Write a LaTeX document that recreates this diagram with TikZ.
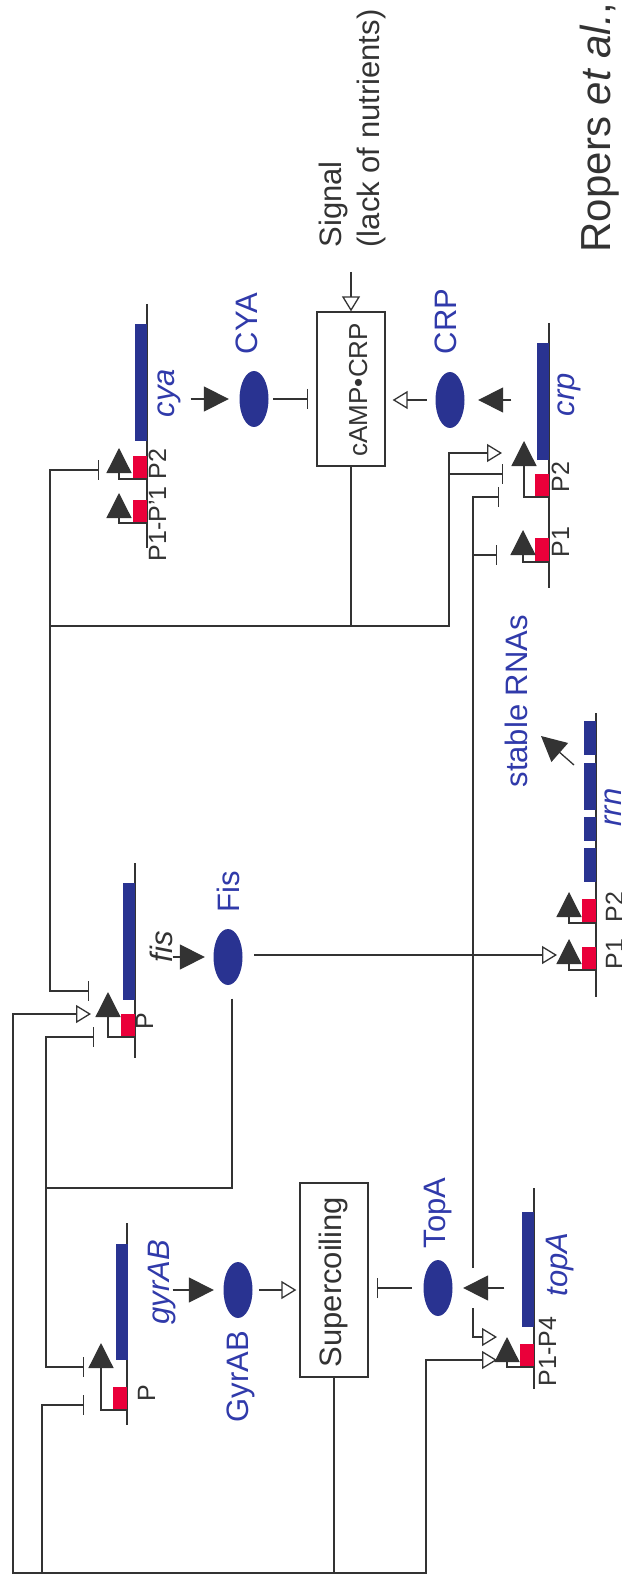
\documentclass[tikz,border=0pt]{standalone}
\usepackage{fontspec}
\setmainfont{Liberation Sans}
\usetikzlibrary{arrows.meta,shapes.geometric}
\definecolor{genebl}{RGB}{41,51,145}
\definecolor{txtbl}{RGB}{48,58,170}
\definecolor{promred}{RGB}{234,0,58}
\definecolor{ink}{RGB}{51,51,51}

\begin{document}
\begin{tikzpicture}[
    x=0.5pt, y=-0.5pt,
    line width=0.65pt, color=ink,
    prot/.style={ellipse,fill=genebl,inner sep=0pt,minimum width=14.5pt,minimum height=28pt},
    genebar/.style={rectangle,fill=genebl,inner sep=0pt,minimum width=6pt},
    sbox/.style={rectangle,draw=ink,inner sep=0pt,minimum width=34pt},
    lbl/.style={rotate=90,inner sep=0pt,anchor=base west,font=\fontsize{15.5}{18}\selectfont},
    bl/.style={lbl,text=txtbl},
    plbl/.style={lbl,font=\fontsize{12.5}{15}\selectfont},
    prod/.style={-{Triangle[length=12.5pt,width=12.5pt]}},
    act/.style={-{Triangle[open,length=7.5pt,width=9pt]}},
    repr/.style={-{Bar[width=10pt]}},
  ]
  \useasboundingbox (0,0) rectangle (621,1588);

  % --- genes: DNA strands, coding regions, promoters ---
  \foreach \gx/\ya/\yb in {147/304/548, 549/323/588, 135/863/1058,
                           596/713/997, 127/1223/1425, 534/1188/1389}
    \draw (\gx,\ya) -- (\gx,\yb);

  \node[genebar,minimum height=58.5pt] (cyag) at (141,382.5) {};
  \node[genebar,minimum height=58.5pt] (crpg) at (543,401.5) {};
  \node[genebar,minimum height=58.5pt] (fisg) at (129,941.5) {};
  \node[genebar,minimum height=58pt]   (gyrg) at (122,1302) {};
  \node[genebar,minimum height=57.5pt] (topg) at (528,1269.5) {};
  \foreach \ya/\yb in {721/755, 763/810, 817/841, 848/882}
    \fill[genebl] (584,\ya) rectangle (596,\yb);

  \foreach \gx/\ya/\yb in {147/456/479, 147/500/523, 549/474/497, 549/538/562,
                           135/1014/1037, 596/899/923, 596/947/970,
                           127/1387/1410, 534/1344/1367}
    \fill[promred] (\gx-14,\ya) rectangle (\gx,\yb);

  % transcription start arrows
  \foreach \gx/\ys/\xs/\yt in {147/479/119/448, 147/523/119/493,
                               549/497/524/441, 549/562/523/530,
                               135/1037/108/992, 596/923/569/892,
                               596/970/569/939, 127/1410/101/1343,
                               534/1367/507/1337}
    \draw[prod] (\gx,\ys) -| (\xs,\yt);

  % --- proteins and boxes ---
  \node[prot] (CYA)   at (254,399)  {};
  \node[prot] (CRP)   at (450,400)  {};
  \node[prot] (Fis)   at (228,957)  {};
  \node[prot] (GyrAB) at (238,1290) {};
  \node[prot] (TopA)  at (438,1288) {};
  \node[sbox,minimum height=77pt] (camp)  at (351,389)  {};
  \node[sbox,minimum height=97pt] (scoil) at (334,1280) {};

  % --- labels ---
  \node[lbl] (sigtxt)  at (341,248) {Signal};
  \node[lbl] (sigtxt2) at (379,248) {(lack of nutrients)};
  \node[lbl,font=\fontsize{21}{24}\selectfont] (ropers) at (610,253) {Ropers \textit{et al.},};
  \node[lbl,font=\fontsize{13}{15}\selectfont] (camptxt) at (367,457) {cAMP•CRP};
  \node[lbl] (scoiltxt) at (341,1368) {Supercoiling};
  \node[bl] at (257,355)  {CYA};
  \node[bl] at (456,355)  {CRP};
  \node[bl] at (174,418)  {\textit{cya}};
  \node[bl] at (574,417)  {\textit{crp}};
  \node[bl] at (239,913)  {Fis};
  \node[lbl] at (172,963) {\textit{fis}};
  \node[bl] at (169,1325) {\textit{gyrAB}};
  \node[bl] at (248,1423) {GyrAB};
  \node[bl] at (445,1249) {TopA};
  \node[bl] at (567,1297) {\textit{topA}};
  \node[bl] at (527,788)  {stable RNAs};
  \node[bl] at (621,827)  {\textit{rrn}};
  \node[plbl] at (166,562)  {P1-P'1 P2};
  \node[plbl] at (569,493)  {P2};
  \node[plbl] at (569,558)  {P1};
  \node[plbl] at (153,1030) {P};
  \node[plbl] at (155,1402) {P};
  \node[plbl] at (556,1387) {P1-P4};
  \node[plbl] at (623,923)  {P2};
  \node[plbl] at (623,970)  {P1};

  % --- regulation targets and junctions ---
  \coordinate (sig)    at (351,272);
  \coordinate (jc)     at (351,626);
  \coordinate (jf)     at (232,1188);
  \coordinate (js)     at (334,1573);
  \coordinate (cyaP2r) at (99,470);
  \coordinate (fisPr1) at (89,991);
  \coordinate (fisPa)  at (91,1014);
  \coordinate (fisPr2) at (94,1037);
  \coordinate (crpP2a) at (502,453);
  \coordinate (crpP2r) at (503,474);
  \coordinate (crpP2q) at (499,497);
  \coordinate (crpP1r) at (497,555);
  \coordinate (rrnP1a) at (557,955);
  \coordinate (gyrPr1) at (84,1367);
  \coordinate (gyrPr2) at (84,1405);
  \coordinate (topPa1) at (497,1337);
  \coordinate (topPa2) at (497,1360);
  \coordinate (rrnx)   at (574,765);
  \coordinate (rnatip) at (541,736);

  % --- expression ---
  \draw[prod,shorten <=21.5pt,shorten >=5pt]  (cyag.east |- CYA) -- (CYA.west);
  \draw[prod,shorten <=12.5pt,shorten >=6.5pt] (crpg.west |- CRP) -- (CRP.east);
  \draw[prod,shorten <=18.5pt,shorten >=4pt]  (fisg.east |- Fis) -- (Fis.west);
  \draw[prod,shorten <=22pt,shorten >=4.5pt]  (gyrg.east |- GyrAB) -- (GyrAB.west);
  \draw[prod,shorten <=8.5pt,shorten >=5pt]   (topg.west |- TopA) -- (TopA.east);
  \draw[prod] (rrnx) -- (rnatip);

  % --- cAMP-CRP module ---
  \draw[act] (sig) -- (sig |- camp.north);
  \draw[repr,shorten <=2pt,shorten >=4pt] (CYA.east) -- (CYA.east -| camp.west);
  \draw[act,shorten <=4pt,shorten >=3.5pt] (CRP.west) -- (CRP.west -| camp.east);
  \draw (camp.south) -- (jc);
  \draw[repr] (jc) -| (50,470) -- (cyaP2r);
  \draw[repr] (50,626) |- (fisPr1);
  \draw[act] (jc) -| (449,453) -- (crpP2a);
  \draw[repr] (449,474) -- (crpP2r);

  % --- Fis ---
  \draw ([shift={(4,13)}]Fis.south) -- (jf) -- (46,1188);
  \draw[repr] (jf) -| (46,1037) -- (fisPr2);
  \draw[repr] (46,1188) |- (gyrPr1);
  \draw[act,shorten <=5.5pt] (Fis.east |- rrnP1a) -- (rrnP1a);
  \draw[repr] (473,1268) -- (473,497) -- (crpP2q);
  \draw[repr] (473,555) -- (crpP1r);
  \draw[act] (473,1308) |- (topPa1);

  % --- supercoiling ---
  \draw[act,shorten <=3pt,shorten >=1.5pt] (GyrAB.east) -- (GyrAB.east -| scoil.west);
  \draw[repr,shorten <=5.5pt,shorten >=4pt] (TopA.west) -- (TopA.west -| scoil.east);
  \draw (scoil.south) -- (js);
  \draw[act] (js) -| (13,1014) -- (fisPa);
  \draw[repr] (42,1573) |- (gyrPr2);
  \draw[act] (js) -| (426,1360) -- (topPa2);

\end{tikzpicture}
\end{document}
